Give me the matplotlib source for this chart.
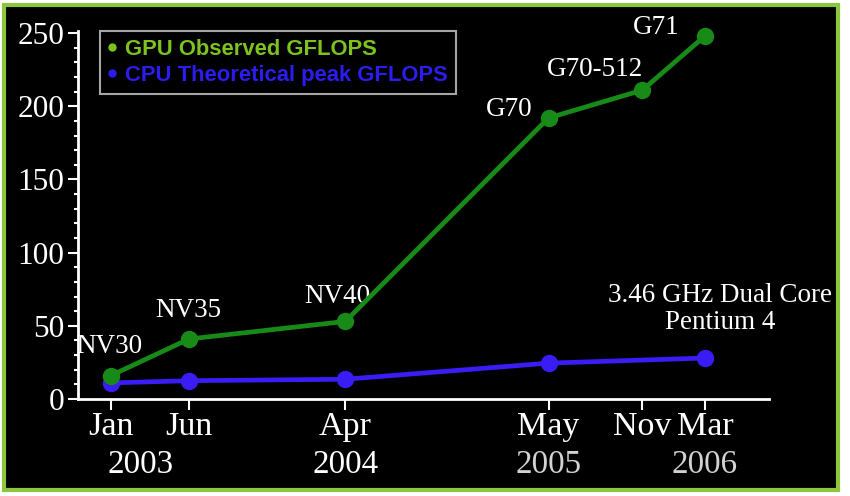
import matplotlib
matplotlib.use("Agg")
import matplotlib.pyplot as plt
from matplotlib.patches import Rectangle
from matplotlib.lines import Line2D

# months counted from Jan 2003
months = [0, 5, 15, 28, 34, 38]
month_labels = ["Jan", "Jun", "Apr", "May", "Nov", "Mar"]

gpu_x = [0, 5, 15, 28, 34, 38]
gpu_y = [16, 41, 53, 192, 211, 248]
gpu_names = ["NV30", "NV35", "NV40", "G70", "G70-512", "G71"]

cpu_x = [0, 5, 15, 28, 38]
cpu_y = [11, 12.5, 13.5, 24.5, 28]

years = ["2003", "2004", "2005", "2006"]
year_x = [1.9, 15, 28, 38]
year_colors = ["white", "white", "#d2d2d2", "#d2d2d2"]

serif = "Liberation Serif"

fig = plt.figure(figsize=(8.5, 4.96), dpi=100, facecolor="white")
# black panel with green frame
fig.patches.append(Rectangle((4 / 850, 1 - 490 / 496), 834 / 850, 485 / 496,
                             transform=fig.transFigure, facecolor="black",
                             edgecolor="#8cc63f", linewidth=3, zorder=-10))

ax = fig.add_axes([78 / 850, 1 - 399 / 496, (769 - 78) / 850, (399 - 31) / 496])
ax.set_facecolor("none")
ax.set_zorder(2)

ax.plot(cpu_x, cpu_y, color="#3a1cf5", lw=3.4, marker="o", ms=11.5,
        solid_capstyle="round", zorder=3, clip_on=False)
ax.plot(gpu_x, gpu_y, color="#178a17", lw=3.4, marker="o", ms=11.5,
        solid_capstyle="round", zorder=4, clip_on=False)

offsets = [(-1, 29), (-1, 28), (-8, 25), (-39, 8), (-47, 21), (-49, 8)]
for x, y, name, off in zip(gpu_x, gpu_y, gpu_names, offsets):
    ax.annotate(name, (x, y), xytext=off, textcoords="offset pixels",
                ha="center", va="center", color="white", fontsize=19.5,
                family=serif)
ax.annotate("3.46 GHz Dual Core\nPentium 4", (cpu_x[-1], cpu_y[-1]),
            xytext=(15, 49), textcoords="offset pixels", ha="center",
            va="center", color="white", fontsize=19.5, family=serif,
            linespacing=1.15)

ax.set_xlim(-2.1, 42.1)
ax.set_ylim(0, 251.4)
ax.set_yticks([0, 50, 100, 150, 200, 250])
ax.set_yticks(range(0, 251, 10), minor=True)
ax.set_xticks(months, month_labels)

for s in ["top", "right"]:
    ax.spines[s].set_visible(False)
for s in ["left", "bottom"]:
    ax.spines[s].set_color("white")
    ax.spines[s].set_linewidth(2)

ax.tick_params(axis="y", which="major", colors="white", length=7, width=1.5,
               labelsize=22.5, pad=3)
ax.tick_params(axis="y", which="minor", colors="white", length=3, width=1.5)
ax.tick_params(axis="x", colors="white", length=8, width=1.5, labelsize=24.5,
               pad=1)
for lab in ax.get_xticklabels() + ax.get_yticklabels():
    lab.set_family(serif)

for yr, x, c in zip(years, year_x, year_colors):
    ax.text(x, -0.179, yr, transform=ax.get_xaxis_transform(), ha="center",
            va="center", color=c, fontsize=23.8, family=serif)

handles = [Line2D([], [], ls="none", marker="o", ms=5, color="#7dc21e"),
           Line2D([], [], ls="none", marker="o", ms=5, color="#2c1cf0")]
leg = fig.legend(handles, ["GPU Observed GFLOPS", "CPU Theoretical peak GFLOPS"],
                 loc="upper left", bbox_to_anchor=(100 / 850, 1 - 31 / 496),
                 frameon=True, facecolor="black", edgecolor="#cfcfcf",
                 fancybox=False, handlelength=0.4, handletextpad=0.4,
                 borderpad=0.35, labelspacing=0.25, borderaxespad=0,
                 prop={"family": "Liberation Sans", "weight": "bold",
                       "size": 15.8})
leg.get_frame().set_linewidth(1.5)
leg.set_zorder(5)
for t, c in zip(leg.get_texts(), ["#7dc21e", "#2c1cf0"]):
    t.set_color(c)

fig.savefig("out.png", dpi=100, facecolor="white")
